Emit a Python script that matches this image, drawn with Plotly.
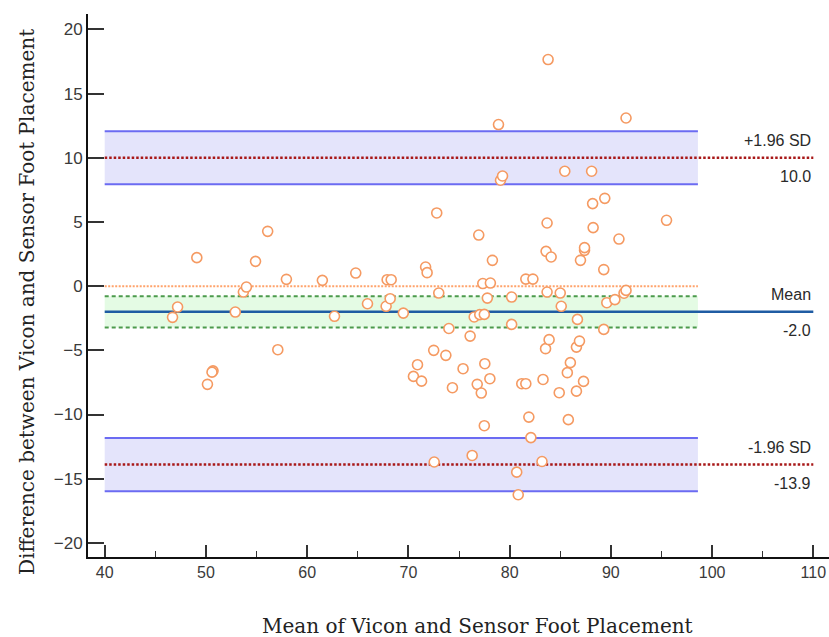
import plotly.graph_objects as go

# Bland-Altman data: mean of the two methods (x) and their difference (y)
mean_vals = [
    46.7, 47.2, 49.1, 50.15, 50.7, 50.6, 52.9, 53.7, 54.0, 54.9, 56.1, 57.1,
    57.95, 61.5, 62.7, 64.8, 65.96, 67.8, 67.9, 68.2, 68.3, 69.5, 70.5, 70.9,
    71.3, 71.7, 71.85, 72.5, 72.55, 72.8, 73.0, 73.7, 74.0, 74.35, 75.4, 76.1,
    76.3, 76.5, 76.8, 76.95, 77.05, 77.2, 77.35, 77.5, 77.5, 77.55, 77.8, 78.05,
    78.1, 78.3, 78.9, 79.1, 79.3, 80.2, 80.2, 80.7, 80.85, 81.2, 81.6, 81.6,
    81.9, 82.1, 82.3, 83.2, 83.3, 83.55, 83.6, 83.7, 83.7, 83.8, 83.9, 84.1,
    84.9, 85.0, 85.1, 85.45, 85.7, 85.8, 86.0, 86.6, 86.6, 86.7, 86.9, 87.0,
    87.3, 87.4, 87.4, 88.1, 88.2, 88.25, 89.3, 89.3, 89.4, 89.6, 90.4, 90.8,
    91.3, 91.5, 91.5, 95.5,
]
diff_vals = [
    -2.43, -1.63, 2.22, -7.65, -6.6, -6.7, -2.02, -0.46, -0.07, 1.93, 4.27, -4.95,
    0.53, 0.45, -2.35, 1.02, -1.37, -1.57, 0.5, -0.98, 0.5, -2.1, -7.03, -6.12,
    -7.4, 1.49, 1.05, -5.0, -13.7, 5.7, -0.54, -5.39, -3.3, -7.91, -6.43, -3.89,
    -13.19, -2.4, -7.65, 3.98, -2.22, -8.33, 0.2, -2.2, -10.87, -6.04, -0.93, -7.21,
    0.24, 2.01, 12.59, 8.25, 8.58, -0.85, -2.98, -14.49, -16.25, -7.6, -7.6, 0.55,
    -10.2, -11.8, 0.55, -13.66, -7.27, -4.87, 2.71, 4.92, -0.46, 17.65, -4.17, 2.27,
    -8.3, -0.54, -1.57, 8.95, -6.74, -10.4, -5.96, -4.75, -8.18, -2.59, -4.28, 2.01,
    -7.42, 2.79, 3.0, 8.95, 6.43, 4.56, 1.29, -3.37, 6.84, -1.29, -1.05, 3.67,
    -0.55, -0.33, 13.1, 5.13,
]

# Summary statistics
bias = -2.0
bias_ci = (-3.22, -0.78)
loa_upper = 10.0
loa_lower = -13.9
loa_ci_half = 2.07

x_ticks = [40, 50, 60, 70, 80, 90, 100, 110]
y_ticks = [-20, -15, -10, -5, 0, 5, 10, 15, 20]

band_x0, band_x1 = 40, 98.6
line_x1 = 110

fig = go.Figure()

shapes = []
# Confidence bands for the limits of agreement
for loa in (loa_upper, loa_lower):
    shapes.append(dict(type="rect", xref="x", yref="y", x0=band_x0, x1=band_x1,
                       y0=loa - loa_ci_half, y1=loa + loa_ci_half,
                       fillcolor="#e4e4fb", line=dict(width=0), layer="below"))
    for edge in (loa - loa_ci_half, loa + loa_ci_half):
        shapes.append(dict(type="line", xref="x", yref="y", x0=band_x0, x1=band_x1,
                           y0=edge, y1=edge, line=dict(color="#6b6bf2", width=2),
                           layer="below"))
    shapes.append(dict(type="line", xref="x", yref="y", x0=band_x0, x1=line_x1,
                       y0=loa, y1=loa,
                       line=dict(color="#a81818", width=2.5, dash="2.5px,2px"),
                       layer="below"))

# Confidence band for the mean difference
shapes.append(dict(type="rect", xref="x", yref="y", x0=band_x0, x1=band_x1,
                   y0=bias_ci[0], y1=bias_ci[1], fillcolor="#e4fbe4",
                   line=dict(width=0), layer="below"))
for edge in bias_ci:
    shapes.append(dict(type="line", xref="x", yref="y", x0=band_x0, x1=band_x1,
                       y0=edge, y1=edge,
                       line=dict(color="#4c9a4c", width=2, dash="4px,3px"),
                       layer="below"))
# Line of equality
shapes.append(dict(type="line", xref="x", yref="y", x0=band_x0, x1=band_x1,
                   y0=0, y1=0,
                   line=dict(color="#ffa36b", width=2, dash="2px,1.5px"),
                   layer="below"))
# Mean difference
shapes.append(dict(type="line", xref="x", yref="y", x0=band_x0, x1=line_x1,
                   y0=bias, y1=bias, line=dict(color="#1f5ca3", width=2.5),
                   layer="below"))

fig.add_trace(go.Scatter(
    x=mean_vals, y=diff_vals, mode="markers",
    marker=dict(symbol="circle", size=10, color="white",
                line=dict(color="#f59a62", width=1.6)),
    showlegend=False, hoverinfo="x+y",
))

label_font = dict(family="Liberation Sans, Arial, sans-serif", size=16, color="#2a2a2a")
annotations = []
for val, top_text in ((loa_upper, "+1.96 SD"), (bias, "Mean"), (loa_lower, "-1.96 SD")):
    annotations.append(dict(x=line_x1, y=val, xref="x", yref="y", text=top_text,
                            showarrow=False, xanchor="right", yanchor="middle",
                            yshift=17, font=label_font))
    annotations.append(dict(x=line_x1, y=val, xref="x", yref="y", text=f"{val:.1f}",
                            showarrow=False, xanchor="right", yanchor="middle",
                            yshift=-19, font=label_font))

title_font = dict(family="DejaVu Serif, serif", size=20, color="#222222")
annotations.append(dict(x=0.5256, y=-0.127, xref="paper", yref="paper",
                        text="Mean of Vicon and Sensor Foot Placement",
                        showarrow=False, xanchor="center", yanchor="middle",
                        font=title_font))
annotations.append(dict(x=-0.0823, y=0.4696, xref="paper", yref="paper",
                        text="Difference between Vicon and Sensor Foot Placement",
                        showarrow=False, xanchor="center", yanchor="middle",
                        textangle=-90, font=title_font))

tick_font_family = "Liberation Sans, Arial, sans-serif"
fig.update_layout(
    width=829, height=637,
    margin=dict(l=88, r=0, t=14, b=80),
    paper_bgcolor="white", plot_bgcolor="white",
    shapes=shapes, annotations=annotations,
    xaxis=dict(range=[38.35, 111.55], tickvals=x_ticks, ticks="inside", ticklen=12,
               tickwidth=1.5, tickcolor="#333333", showline=True, linecolor="#111111",
               linewidth=2, showgrid=False, zeroline=False,
               minor=dict(dtick=5, tick0=0, ticks="inside", ticklen=6,
                          tickcolor="#333333", tickwidth=1.2),
               tickfont=dict(family=tick_font_family, size=16, color="#3a3a3a")),
    yaxis=dict(range=[-21.1, 21.2], tickvals=y_ticks, ticks="inside", ticklen=16,
               tickwidth=1.5, tickcolor="#333333", showline=True, linecolor="#111111",
               linewidth=2, showgrid=False, zeroline=False,
               tickfont=dict(family=tick_font_family, size=17, color="#3a3a3a")),
)

fig.write_html("out.html")
